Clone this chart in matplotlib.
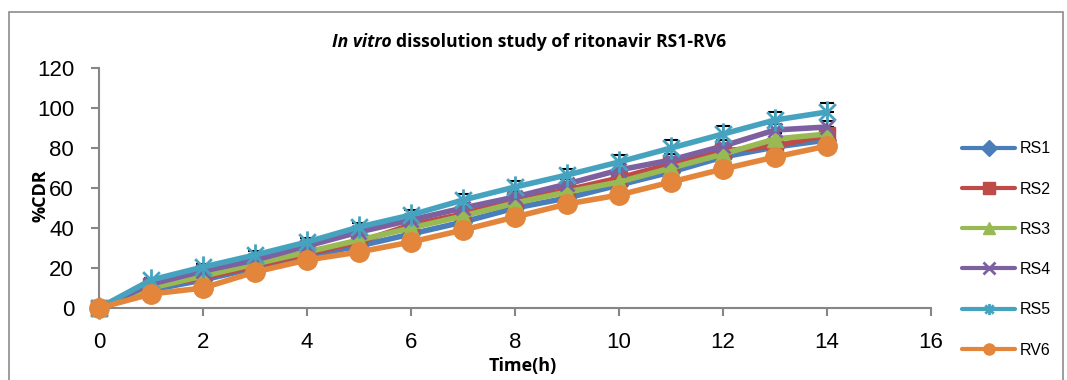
import numpy as np
import matplotlib
matplotlib.use('Agg')
import matplotlib.pyplot as plt
from matplotlib.patches import Rectangle
from matplotlib.path import Path

# --- data ---
time_h = [0, 1, 2, 3, 4, 5, 6, 7, 8, 9, 10, 11, 12, 13, 14]
labels = ['RS1', 'RS2', 'RS3', 'RS4', 'RS5', 'RV6']
rs1 = [0, 9, 14, 20, 26, 31, 37, 43, 50, 55, 61.5, 68, 75.5, 80.5, 84]
rs2 = [0, 11, 15, 21, 27, 33, 41.5, 47, 54, 59, 65, 72, 78.5, 81, 86.5]
rs3 = [0, 10, 16, 22, 28, 34, 40, 46, 52.5, 58, 63, 70, 77, 84.5, 87]
rs4 = [0, 12, 18.5, 24, 31, 38, 44, 50, 55.5, 62, 69, 74, 81, 89, 90.5]
rs5 = [0, 14, 20.5, 26.5, 33, 40.5, 46.5, 54, 60.5, 66.5, 73, 80, 87, 94, 98]
rv6 = [0, 7, 10, 18, 24, 28, 33, 39, 45.5, 52, 56.5, 63, 69.5, 75.5, 81]
err_rs = [0, 1, 1.5, 1.5, 2, 2, 2, 2.5, 2.5, 2.5, 3, 3, 3, 3, 3]
err_rs5 = [0, 1, 1.5, 2, 2, 2, 2.5, 3, 3, 3, 3.5, 4, 4, 4, 4.5]
err_rv6 = [0, 1, 1, 1.5, 1.5, 2, 2, 2, 2, 2, 2.5, 2.5, 2.5, 2.5, 2.5]

series = [rs1, rs2, rs3, rs4, rs5, rv6]
errors = [err_rs, err_rs, err_rs, err_rs, err_rs5, err_rv6]

# Excel-style star: an x with a vertical stroke
star = Path([(0, -1), (0, 1), (-0.75, -0.75), (0.75, 0.75), (-0.75, 0.75), (0.75, -0.75)],
            [Path.MOVETO, Path.LINETO] * 3)

colors = ['#4A7EBB', '#BE4B48', '#98B954', '#7D60A0', '#46A3C0', '#E3853A']
markers = ['D', 's', '^', 'x', star, 'o']
msizes = [9, 11, 12, 10, 16, 14]

fig = plt.figure(figsize=(10.67, 3.8), dpi=100)
ax = fig.add_axes([0.0928, 0.1895, 0.7798, 0.6315])

# outer chart frame
fig.patches.append(Rectangle((9 / 1067, -0.1), (1063 - 9) / 1067, 1.1 - 12 / 380,
                             transform=fig.transFigure, fill=False,
                             edgecolor='#8c8c8c', linewidth=1.2))

for y, e, c, m, ms, lab in zip(series, errors, colors, markers, msizes, labels):
    ax.errorbar(time_h, y, yerr=[np.zeros(len(e)), e], fmt='none',
                ecolor='black', elinewidth=1.2, capsize=5, capthick=1.5, zorder=2)
    ax.plot(time_h, y, color=c, marker=m, markersize=ms, linewidth=4,
            markeredgewidth=2 if lab in ('RS4', 'RS5') else 1,
            markeredgecolor=c, label=lab, zorder=3, solid_capstyle='round',
            clip_on=False)

ax.set_xlim(0, 16)
ax.set_ylim(0, 120)
ax.set_xticks(range(0, 17, 2))
ax.set_yticks(range(0, 121, 20))
for s in ['top', 'right']:
    ax.spines[s].set_visible(False)
for s in ['left', 'bottom']:
    ax.spines[s].set_color('#868686')
    ax.spines[s].set_linewidth(1.5)
ax.tick_params(axis='both', colors='#868686', length=6, width=1.5, direction='out',
               labelcolor='black', labelsize=16)
ax.tick_params(axis='x', pad=11)
ax.tick_params(axis='y', pad=12)
for t in ax.get_xticklabels() + ax.get_yticklabels():
    t.set_fontfamily('Liberation Sans')

ax.set_xlabel('Time(h)', fontsize=13, fontweight='bold', family='Open Sans')
ax.xaxis.set_label_coords(0.509, -0.205)
ax.set_ylabel('%CDR', fontsize=13, fontweight='bold', family='Open Sans')
ax.yaxis.set_label_coords(-0.06, 0.47)

fig.text(392 / 1067, 1 - 42 / 380, 'In vitro', ha='right', va='center', fontsize=12.7,
         fontweight='bold', style='italic', family='Open Sans')
fig.text(396 / 1067, 1 - 42 / 380, 'dissolution study of ritonavir RS1-RV6', ha='left',
         va='center', fontsize=12.7, fontweight='bold', family='Open Sans')

leg = fig.legend(loc='upper left', bbox_to_anchor=(948 / 1067, 1 - 127 / 380),
                 frameon=False, handlelength=3.3, labelspacing=1.58, handletextpad=0.3,
                 prop={'family': 'Liberation Sans', 'size': 11.5})
for h in leg.legend_handles:
    h.set_markersize(8)
    h.set_linewidth(3)

fig.savefig('out.png', dpi=100)
